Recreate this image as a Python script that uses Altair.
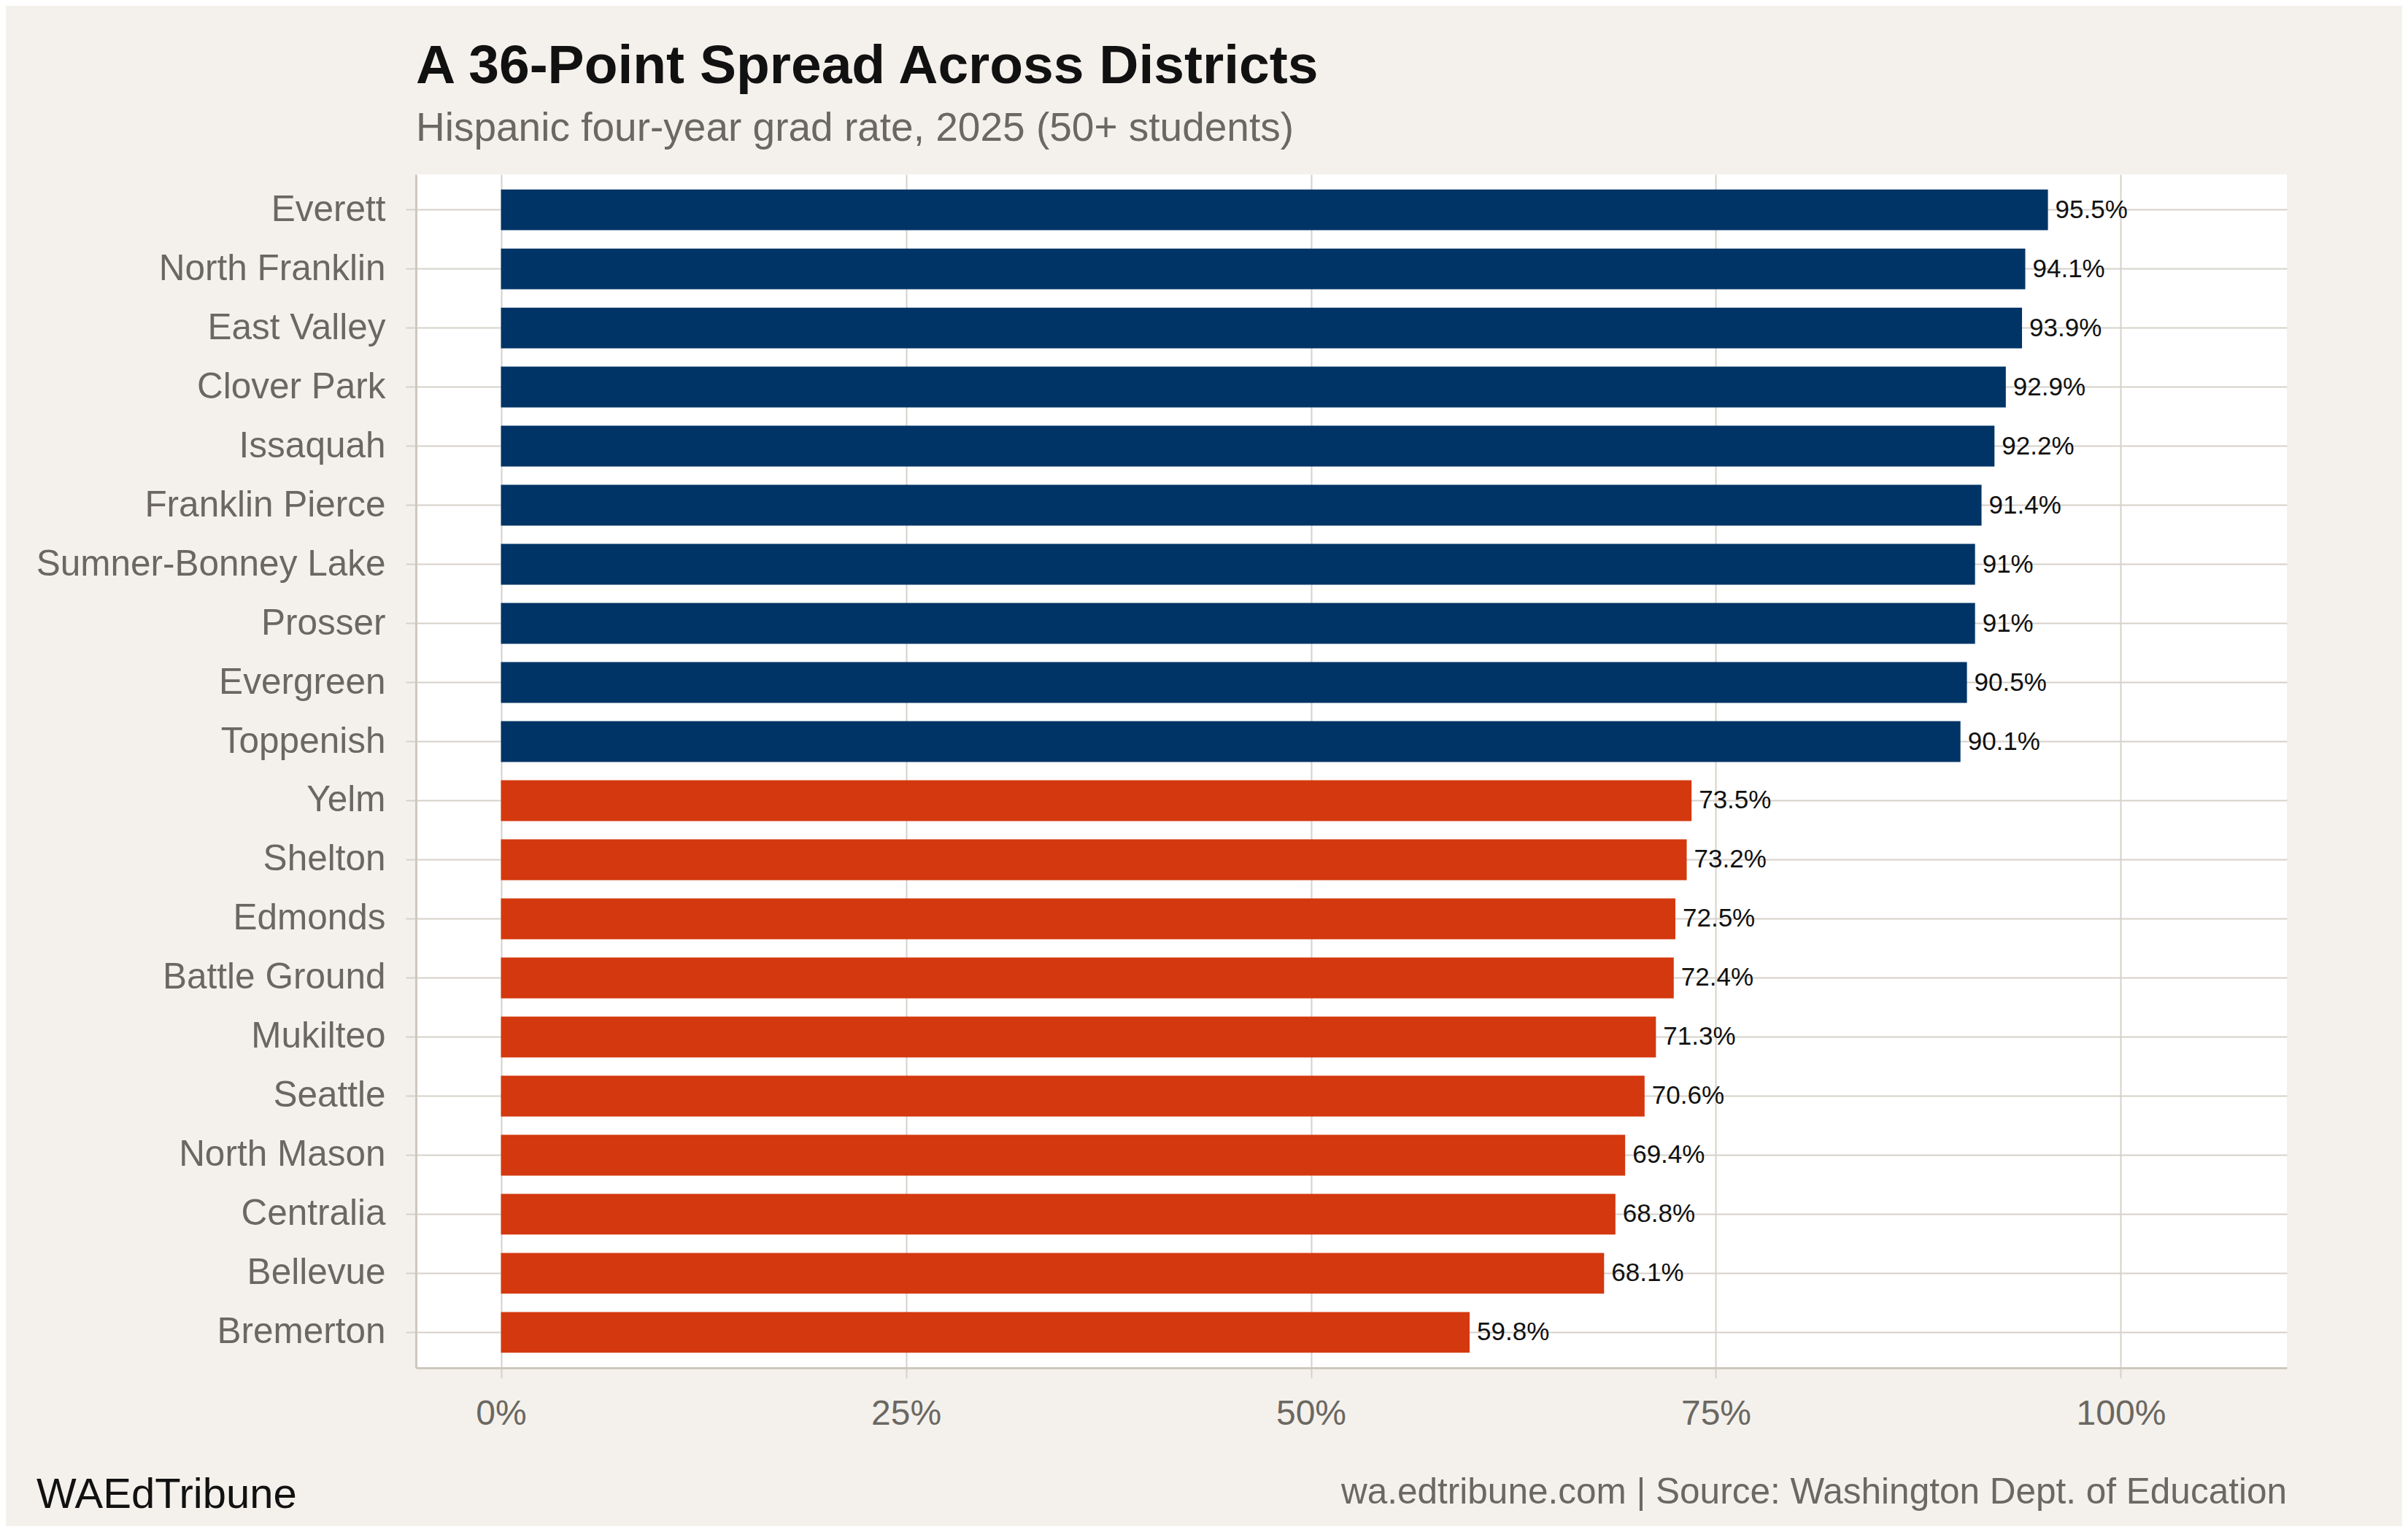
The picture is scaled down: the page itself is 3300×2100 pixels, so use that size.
import altair as alt
import pandas as pd

districts = ["Everett", "North Franklin", "East Valley", "Clover Park", "Issaquah",
             "Franklin Pierce", "Sumner-Bonney Lake", "Prosser", "Evergreen", "Toppenish",
             "Yelm", "Shelton", "Edmonds", "Battle Ground", "Mukilteo", "Seattle",
             "North Mason", "Centralia", "Bellevue", "Bremerton"]
rates = [95.5, 94.1, 93.9, 92.9, 92.2, 91.4, 91.0, 91.0, 90.5, 90.1,
         73.5, 73.2, 72.5, 72.4, 71.3, 70.6, 69.4, 68.8, 68.1, 59.8]
groups = ["Top"] * 10 + ["Bottom"] * 10
x_ticks = [0, 25, 50, 75, 100]

df = pd.DataFrame({"district": districts, "rate": rates, "group": groups})

FONT = "Liberation Sans"
GRAY = "#6b6761"
GRID = "#d6d1c9"
AXIS = "#cdc7be"

W, H = 2564, 1636

y_enc = alt.Y("district:N", sort=districts, title=None,
              scale=alt.Scale(paddingInner=0.31, paddingOuter=0.255),
              axis=alt.Axis(grid=True, bandPosition=0.5, gridColor=GRID, gridWidth=2,
                            tickColor=GRID, tickWidth=2, tickSize=14,
                            domainColor=AXIS, domainWidth=3,
                            labelFont=FONT, labelFontSize=49.5, labelColor=GRAY,
                            labelPadding=28, labelLimit=1000))

x_scale = alt.Scale(domain=[-5.25, 110.25], nice=False, zero=False)

bars = alt.Chart(df).mark_bar().encode(
    x=alt.X("rate:Q", scale=x_scale, title=None,
            axis=alt.Axis(values=x_ticks, labelExpr="datum.value + '%'",
                          grid=True, gridColor=GRID, gridWidth=2,
                          tickColor=GRID, tickWidth=2, tickSize=14,
                          domainColor=AXIS, domainWidth=3,
                          labelFont=FONT, labelFontSize=48, labelColor=GRAY,
                          labelPadding=25)),
    x2=alt.datum(0),
    y=y_enc,
    color=alt.Color("group:N", scale=alt.Scale(domain=["Top", "Bottom"],
                                              range=["#003466", "#d4380e"]),
                    legend=None),
)

labels = alt.Chart(df).transform_calculate(
    label="format(datum.rate, '.3~g') + '%'"
).mark_text(align="left", baseline="middle", dx=10, font=FONT, fontSize=35,
            color="#111111").encode(
    x=alt.X("rate:Q", scale=x_scale),
    y=alt.Y("district:N", sort=districts),
    text="label:N",
)

footer_left = alt.Chart(pd.DataFrame({"t": ["WAEdTribune"]})).mark_text(
    align="left", baseline="alphabetic", font=FONT, fontSize=58, color="#111111"
).encode(x=alt.value(-520), y=alt.value(1828), text="t:N")

footer_right = alt.Chart(pd.DataFrame({"t": ["wa.edtribune.com | Source: Washington Dept. of Education"]})).mark_text(
    align="right", baseline="alphabetic", font=FONT, fontSize=49.5, color=GRAY
).encode(x=alt.value(W), y=alt.value(1822), text="t:N")

chart = alt.layer(bars, labels, footer_left, footer_right).properties(
    width=W, height=H,
    title=alt.TitleParams(
        text="A 36-Point Spread Across Districts",
        subtitle="Hispanic four-year grad rate, 2025 (50+ students)",
        anchor="start", frame="group",
        font=FONT, fontSize=75, fontWeight="bold", color="#111111",
        subtitleFont=FONT, subtitleFontSize=55, subtitleColor=GRAY,
        subtitlePadding=20, offset=34,
    ),
    autosize=alt.AutoSizeParams(type="none"),
    padding={"left": 562, "top": 231, "right": 158, "bottom": 217},
    background="#f4f1ec",
).configure_view(fill="white", stroke=None)

chart.save("out.html", embed_options={"renderer": "svg", "actions": False})
